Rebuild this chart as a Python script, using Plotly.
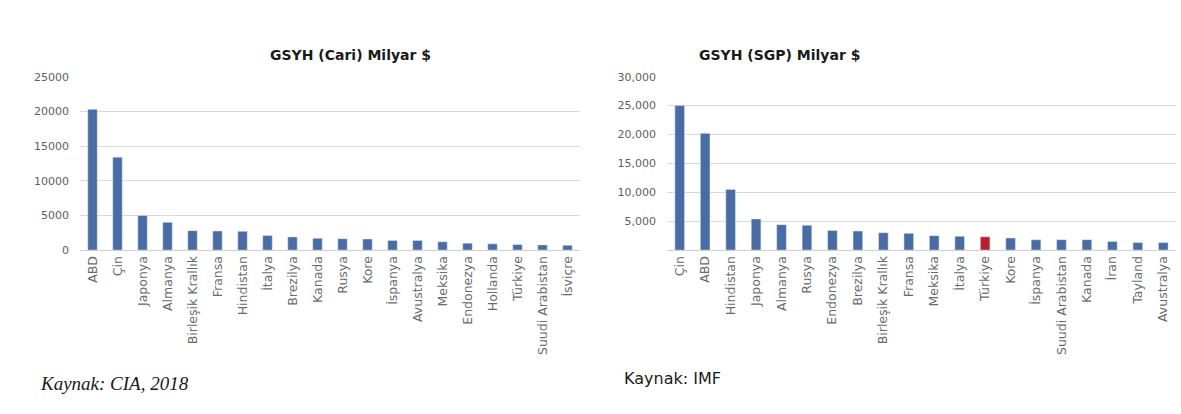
import plotly.graph_objects as go

# Left chart: GSYH (Cari) Milyar $
left_categories = ["ABD", "Çin", "Japonya", "Almanya", "Birleşik Krallık", "Fransa",
                   "Hindistan", "İtalya", "Brezilya", "Kanada", "Rusya", "Kore",
                   "İspanya", "Avustralya", "Meksika", "Endonezya", "Hollanda",
                   "Türkiye", "Suudi Arabistan", "İsviçre"]
left_values = [20300, 13400, 5000, 4000, 2800, 2750, 2700, 2100, 1900, 1700,
               1650, 1600, 1400, 1400, 1200, 1000, 900, 800, 750, 700]
left_ticks = [0, 5000, 10000, 15000, 20000, 25000]
left_ticklabels = ["0", "5000", "10000", "15000", "20000", "25000"]

# Right chart: GSYH (SGP) Milyar $
right_categories = ["Çin", "ABD", "Hindistan", "Japonya", "Almanya", "Rusya",
                    "Endonezya", "Brezilya", "Birleşik Krallık", "Fransa", "Meksika",
                    "İtalya", "Türkiye", "Kore", "İspanya", "Suudi Arabistan",
                    "Kanada", "İran", "Tayland", "Avustralya"]
right_values = [25000, 20200, 10500, 5400, 4400, 4300, 3400, 3300, 3000, 2900,
                2500, 2400, 2300, 2100, 1800, 1800, 1800, 1500, 1300, 1300]
right_ticks = [5000, 10000, 15000, 20000, 25000, 30000]
right_ticklabels = ["5,000", "10,000", "15,000", "20,000", "25,000", "30,000"]

highlight = "Türkiye"
BLUE = "#4A6CA5"
RED = "#B5222E"

fig = go.Figure()
fig.add_trace(go.Bar(x=left_categories, y=left_values, marker_color=BLUE,
                     xaxis="x", yaxis="y", showlegend=False))
fig.add_trace(go.Bar(x=right_categories, y=right_values,
                     marker_color=[RED if c == highlight else BLUE for c in right_categories],
                     xaxis="x2", yaxis="y2", showlegend=False))

W, H = 1181, 414
def xd(a, b):
    return [a / W, b / W]
def yd(top, bottom):
    return [1 - bottom / H, 1 - top / H]

SANS = "DejaVu Sans, Arial"
xtickfont = dict(family=SANS, size=12.5, color="#6a6a6a")
ytickfont = dict(family=SANS, size=11, color="#606060")
fig.update_layout(
    width=W, height=H,
    margin=dict(l=0, r=0, t=0, b=0),
    paper_bgcolor="white", plot_bgcolor="white",
    bargap=0.62,
    xaxis=dict(domain=xd(80, 580), tickangle=-90, tickfont=xtickfont,
               showline=True, linecolor="#d0d0d0", ticks="", showgrid=False),
    yaxis=dict(domain=yd(73, 252), range=[0, 25000], tickvals=left_ticks,
               ticktext=left_ticklabels, tickfont=ytickfont, showgrid=True,
               gridcolor="#d9d9d9", zeroline=False, ticks="", ticklabelstandoff=10),
    xaxis2=dict(domain=xd(667, 1176), anchor="y2", tickangle=-90, tickfont=xtickfont,
                showline=True, linecolor="#d0d0d0", ticks="", showgrid=False),
    yaxis2=dict(domain=yd(73, 252), anchor="x2", range=[0, 30000], tickvals=right_ticks,
                ticktext=right_ticklabels, tickfont=ytickfont, showgrid=True,
                gridcolor="#d9d9d9", zeroline=False, ticks="", ticklabelstandoff=10),
    annotations=[
        dict(text="<b>GSYH (Cari) Milyar $</b>", x=268 / W, y=1 - 40 / H, xref="paper", yref="paper",
             showarrow=False, font=dict(family=SANS, size=14, color="#1a1a1a")),
        dict(text="<b>GSYH (SGP) Milyar $</b>", x=862 / W, y=1 - 40 / H, xref="paper", yref="paper",
             showarrow=False, font=dict(family=SANS, size=14, color="#1a1a1a")),
        dict(text="<i>Kaynak: CIA, 2018</i>", x=38 / W, y=1 - 403 / H, xref="paper", yref="paper",
             xanchor="left", showarrow=False,
             font=dict(family="Liberation Serif, Times New Roman", size=19, color="#1a1a1a")),
        dict(text="Kaynak: IMF", x=622 / W, y=1 - 396 / H, xref="paper", yref="paper",
             xanchor="left", showarrow=False,
             font=dict(family=SANS, size=16, color="#1a1a1a")),
    ],
)

fig.write_html("out.html")
